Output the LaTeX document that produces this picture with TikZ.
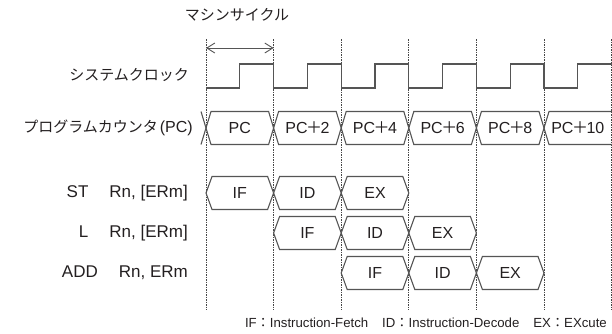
\documentclass[tikz,border=0pt]{standalone}
\usepackage{fontspec}
\setmainfont{Liberation Sans}
\newfontfamily\jp{Noto Sans CJK JP}
\usetikzlibrary{arrows.meta}
\definecolor{sigcol}{RGB}{85,85,85}
\definecolor{txtcol}{RGB}{35,31,32}
\definecolor{guidecol}{RGB}{70,70,70}
\newcommand{\plusj}{\kern-1.5bp{\jp ＋}\kern-1.5bp}
\tikzset{
  lbl/.style={font=\fontsize{16bp}{19bp}\selectfont, text=txtcol, inner sep=0pt},
  rowlbl/.style={font=\fontsize{17bp}{20bp}\selectfont, text=txtcol, inner sep=0pt, anchor=east},
  jlbl/.style={font=\fontsize{15bp}{18bp}\selectfont\jp, text=txtcol, inner sep=0pt},
  foot/.style={font=\fontsize{13.2bp}{16bp}\selectfont, text=txtcol, inner sep=0pt},
  sig/.style={draw=sigcol, line width=1.1bp, line join=miter},
  guide/.style={draw=guidecol, line width=0.7bp, dash pattern=on 1.5bp off 1bp},
  cyclearrow/.style={draw=sigcol, line width=0.9bp, {Straight Barb[length=8bp,width=10bp]}-{Straight Barb[length=8bp,width=10bp]}},
}
\begin{document}
\begin{tikzpicture}[x=1bp,y=-1bp]
\useasboundingbox (0,0) rectangle (612,333);
% guide lines
\foreach \i in {0,...,6}{
  \coordinate (gt\i) at ({206+67.6*\i},39);
  \coordinate (gb\i) at ({206+67.6*\i},310);
  \draw[guide] (gt\i) -- (gb\i);
}
% machine cycle
\node[jlbl] (mc) at (237,15) {マシンサイクル};
\coordinate (mca) at (206,48);
\coordinate (mcb) at (273.6,48);
\draw[cyclearrow] (mca) -- (mcb);
% clock
\node[jlbl, anchor=east] (clk) at (189,75) {システムクロック};
\draw[sig] (206,88)
  \foreach \i in {0,...,4}{
    -- ({206+67.6*\i+33.8},88) -- ({206+67.6*\i+33.8},64)
    -- ({206+67.6*(\i+1)},64) -- ({206+67.6*(\i+1)},88)}
  -- ({206+67.6*5+33.8},88) -- ({206+67.6*5+33.8},64) -- (612,64);
% program counter
\node[jlbl, anchor=east] (pcl) at (193,128) {プログラムカウンタ\kern2bp{\rmfamily\fontsize{16bp}{19bp}\selectfont (PC)}};
\def\pt{111.5}\def\pm{128}\def\pb{144.5}
\draw[sig] (201,\pt) -- (206,\pm) -- (201,\pb);
\foreach \i/\t in {0/PC,1/PC\plusj 2,2/PC\plusj 4,3/PC\plusj 6,4/PC\plusj 8}{
  \draw[sig] ({206+67.6*\i},\pm) -- ({206+67.6*\i+5},\pt) -- ({206+67.6*(\i+1)-5},\pt)
    -- ({206+67.6*(\i+1)},\pm) -- ({206+67.6*(\i+1)-5},\pb) -- ({206+67.6*\i+5},\pb) -- cycle;
  \node[lbl] (pc\i) at ({206+67.6*\i+33.8},\pm) {\t};
}
\draw[sig] (612,\pt) -- ({206+67.6*5+5},\pt) -- ({206+67.6*5},\pm) -- ({206+67.6*5+5},\pb) -- (612,\pb);
\node[lbl] (pc5) at ({206+67.6*5+33.8},\pm) {PC\plusj 10};
% pipeline rows
\node[rowlbl] (st) at (188,193) {ST\hspace{21bp}Rn, [ERm]};
\node[rowlbl] (ld) at (188,233) {L\hspace{21bp}Rn, [ERm]};
\node[rowlbl] (add) at (188,273) {ADD\hspace{21bp}Rn, ERm};
\foreach \r/\yc in {0/193,1/233,2/273}{
  \foreach \k/\t in {0/IF,1/ID,2/EX}{
    \pgfmathsetmacro{\xa}{206+67.6*(\r+\k)}
    \pgfmathsetmacro{\xb}{206+67.6*(\r+\k+1)}
    \draw[sig] (\xa,\yc) -- (\xa+6,\yc-16.5) -- (\xb-6,\yc-16.5) -- (\xb,\yc)
      -- (\xb-6,\yc+16.5) -- (\xa+6,\yc+16.5) -- cycle;
    \node[lbl] (s\r\k) at ({(\xa+\xb)/2},\yc) {\t};
  }
}
% footer
\node[foot, anchor=east] (legend) at (607,323) {IF{\jp ：}Instruction-Fetch\hspace{14bp}ID{\jp ：}Instruction-Decode\hspace{14bp}EX{\jp ：}EXcute};
\end{tikzpicture}
\end{document}
